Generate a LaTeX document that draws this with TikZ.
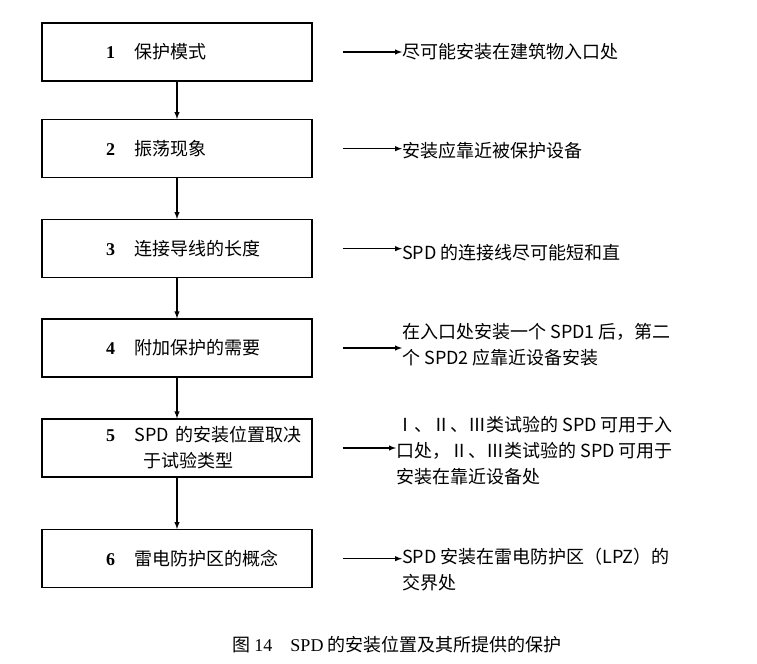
\documentclass[tikz,border=0pt]{standalone}
\usepackage{fontspec}
\setmainfont{Noto Sans CJK SC}
\newfontfamily\numfont{Liberation Serif}
\usetikzlibrary{arrows,positioning}

\begin{document}
\begin{tikzpicture}[x=0.75pt,y=-0.75pt,node distance=74.5pt,font=\fontsize{13.5pt}{19.5pt}\selectfont]

\tikzstyle{sq} = [rectangle, minimum height=43.5pt, minimum width=202.5pt, text width=202.5pt, inner xsep=0pt, align=left, draw=black, line width=0.9pt]
\tikzstyle{tx} = [anchor=west, align=left, inner sep=0pt]
\tikzstyle{ar} = [-latex, line width=0.8pt]

\useasboundingbox (0,0) rectangle (757,664);

\node (b1) [sq] at (177,52) {\hspace*{48pt}{\numfont\bfseries 1}\hspace{1.1em}保护模式};
\node (b2) [sq, below of=b1, node distance=72.5pt] {\hspace*{48pt}{\numfont\bfseries 2}\hspace{1.1em}振荡现象};
\node (b3) [sq, below of=b2, node distance=75pt] {\hspace*{48pt}{\numfont\bfseries 3}\hspace{1.1em}连接导线的长度};
\node (b4) [sq, below of=b3] {\hspace*{48pt}{\numfont\bfseries 4}\hspace{1.1em}附加保护的需要};
\node (b5) [sq, below of=b4, node distance=75pt] {\hspace*{48pt}\mbox{{\numfont\bfseries 5}\hspace{1.1em}SPD 的安装位置取决}\\\hspace*{76pt}于试验类型};
\node (b6) [sq, below of=b5, node distance=83pt] {\hspace*{48pt}{\numfont\bfseries 6}\hspace{1.1em}雷电防护区的概念};

\node (t1) [tx] at (402,52) {尽可能安装在建筑物入口处};
\node (t2) [tx] at (402,151) {安装应靠近被保护设备};
\node (t3) [tx] at (402,253) {SPD 的连接线尽可能短和直};
\node (t4) [tx] at (402,345) {在入口处安装一个 SPD1 后，第二\\个\ SPD2 应靠近设备安装};
\node (t5) [tx] at (396,451) {Ⅰ、Ⅱ、Ⅲ类试验的 SPD 可用于入\\口处，Ⅱ、Ⅲ类试验的 SPD 可用于\\安装在靠近设备处};
\node (t6) [tx] at (402,570) {SPD 安装在雷电防护区（LPZ）的\\交界处};

\foreach \i in {1,...,6} {
  \coordinate (s\i) at ([xshift=22.5pt]b\i.east);
}
\draw [ar] (s1) -- (s1 -| t1.west);
\draw [ar] (s2) -- (s2 -| t2.west);
\draw [ar] (s3) -- (s3 -| t3.west);
\draw [ar] (s4) -- (s4 -| t4.west);
\draw [ar] (s5) -- (s5 -| t5.west);
\draw [ar] (s6) -- (s6 -| t6.west);

\draw [ar] (b1) -- (b2);
\draw [ar] (b2) -- (b3);
\draw [ar] (b3) -- (b4);
\draw [ar] (b4) -- (b5);
\draw [ar] (b5) -- (b6);

\node (cap) at (397,645) {图 {\numfont 14}\quad {\numfont SPD} 的安装位置及其所提供的保护};
\end{tikzpicture}
\end{document}
